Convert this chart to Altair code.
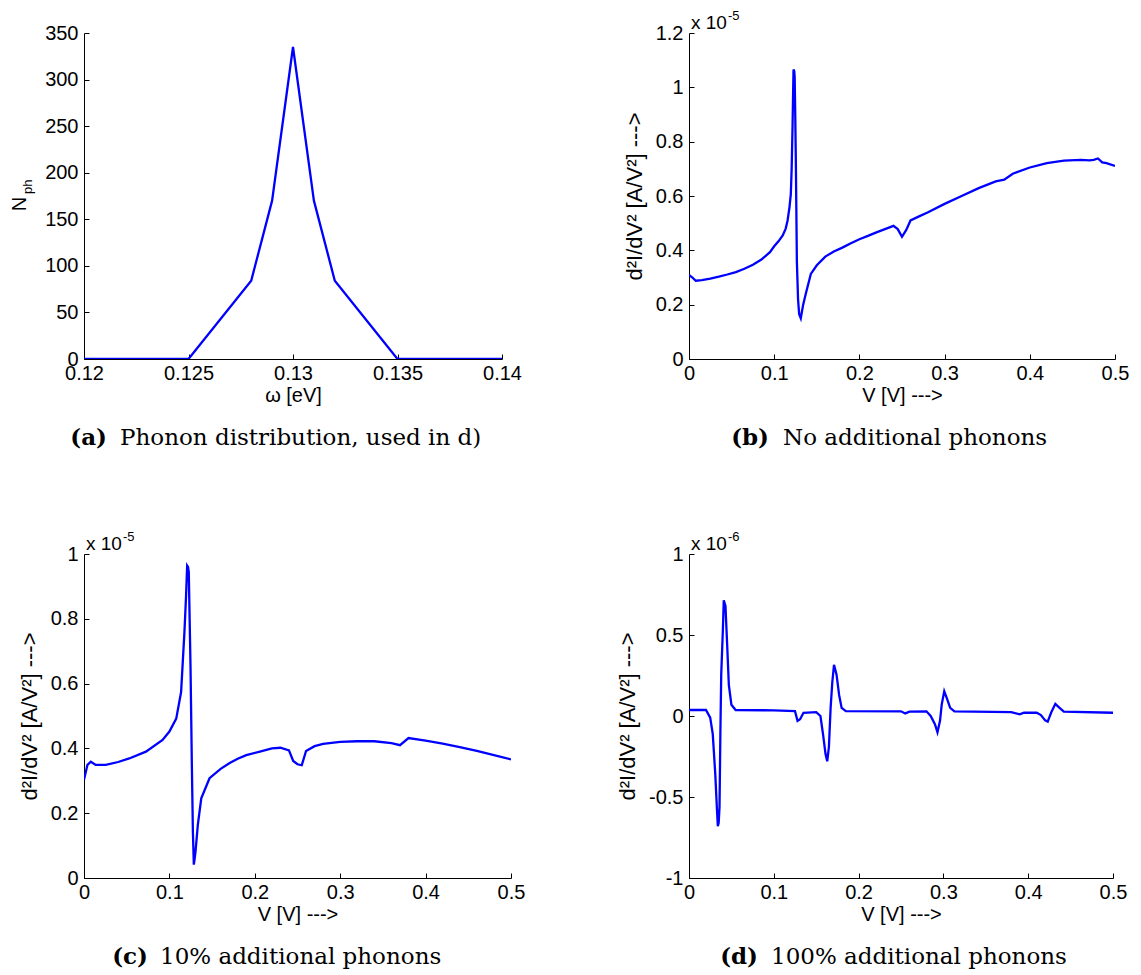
import altair as alt
import pandas as pd

# ---------------- data ----------------
# (a) phonon distribution
a_omega = [0.12, 0.125, 0.128, 0.129, 0.13, 0.131, 0.132, 0.135, 0.14]
a_nph = [0, 0, 84, 170, 335, 170, 84, 0, 0]

# (b) no additional phonons  (values in units of 1e-5)
b_v = [0.0, 0.004, 0.008, 0.015, 0.025, 0.035, 0.045, 0.055, 0.065, 0.075,
       0.085, 0.095, 0.1, 0.105, 0.11, 0.1135, 0.1157, 0.118, 0.1195, 0.1205,
       0.1215, 0.1222, 0.1227, 0.1235, 0.124, 0.1247, 0.1254, 0.126, 0.1266, 0.128,
       0.1293, 0.1312, 0.134, 0.137, 0.143, 0.15, 0.16, 0.17, 0.18, 0.19,
       0.2, 0.21, 0.22, 0.23, 0.24, 0.245, 0.25, 0.255, 0.26, 0.27,
       0.28, 0.3, 0.32, 0.34, 0.36, 0.37, 0.38, 0.4, 0.42, 0.44,
       0.46, 0.47, 0.475, 0.48, 0.485, 0.49, 0.5]
b_d2i = [0.31, 0.30, 0.288, 0.29, 0.296, 0.303, 0.311, 0.32, 0.332, 0.347,
         0.366, 0.393, 0.415, 0.433, 0.455, 0.48, 0.51, 0.56, 0.607, 0.70,
         0.851, 0.98, 1.066, 1.06, 1.04, 0.9, 0.729, 0.55, 0.36, 0.22,
         0.165, 0.15, 0.2, 0.239, 0.313, 0.345, 0.377, 0.396, 0.41, 0.426,
         0.441, 0.453, 0.466, 0.478, 0.49, 0.478, 0.45, 0.475, 0.51, 0.525,
         0.539, 0.571, 0.6, 0.629, 0.654, 0.66, 0.682, 0.705, 0.721, 0.73,
         0.733, 0.731, 0.733, 0.738, 0.724, 0.721, 0.711]

# (c) 10% additional phonons (units of 1e-5)
c_v = [0.0, 0.004, 0.008, 0.0137, 0.0255, 0.04, 0.053, 0.0725, 0.092, 0.1,
       0.108, 0.1137, 0.1176, 0.1195, 0.1208, 0.1218, 0.1227, 0.1237, 0.1247, 0.1263,
       0.1275, 0.1286, 0.1296, 0.1306, 0.1333, 0.1373, 0.147, 0.16, 0.1706, 0.18,
       0.19, 0.206, 0.22, 0.23, 0.24, 0.245, 0.25, 0.255, 0.26, 0.27,
       0.28, 0.3, 0.32, 0.34, 0.36, 0.37, 0.38, 0.4, 0.42, 0.44,
       0.46, 0.48, 0.5]
c_d2i = [0.303, 0.349, 0.359, 0.349, 0.349, 0.358, 0.369, 0.39, 0.426, 0.452,
         0.492, 0.574, 0.759, 0.87, 0.964, 0.96, 0.944, 0.8, 0.657, 0.349,
         0.144, 0.041, 0.06, 0.082, 0.164, 0.246, 0.308, 0.337, 0.355, 0.368,
         0.379, 0.39, 0.4, 0.402, 0.394, 0.361, 0.351, 0.348, 0.392, 0.407,
         0.414, 0.42, 0.422, 0.422, 0.416, 0.41, 0.432, 0.424, 0.415, 0.404,
         0.392, 0.379, 0.366]

# (d) 100% additional phonons (units of 1e-6)
d_v = [0, 0.02, 0.025, 0.028, 0.031, 0.033, 0.034, 0.035, 0.036, 0.037,
       0.038, 0.04, 0.041, 0.043, 0.045, 0.047, 0.05, 0.055, 0.1, 0.125,
       0.128, 0.131, 0.135, 0.15, 0.155, 0.158, 0.161, 0.163, 0.165, 0.167,
       0.169, 0.171, 0.174, 0.177, 0.18, 0.185, 0.25, 0.255, 0.26, 0.28,
       0.285, 0.29, 0.293, 0.296, 0.298, 0.301, 0.304, 0.308, 0.313, 0.38,
       0.39, 0.395, 0.41, 0.415, 0.42, 0.423, 0.427, 0.432, 0.437, 0.442,
       0.5]
d_d2i = [0.037, 0.037, -0.01, -0.11, -0.36, -0.58, -0.68, -0.66, -0.56, -0.11,
         0.255, 0.54, 0.714, 0.68, 0.44, 0.19, 0.07, 0.037, 0.035, 0.03,
         -0.03, -0.02, 0.02, 0.024, 0.0, -0.11, -0.235, -0.28, -0.19, 0.05,
         0.21, 0.316, 0.255, 0.13, 0.05, 0.03, 0.029, 0.016, 0.027, 0.029,
         0.0, -0.05, -0.10, -0.03, 0.07, 0.153, 0.11, 0.05, 0.029, 0.024,
         0.01, 0.02, 0.02, 0.006, -0.027, -0.035, 0.02, 0.075, 0.05, 0.027,
         0.02]

a_xticks = [0.12, 0.125, 0.13, 0.135, 0.14]
a_yticks = [0, 50, 100, 150, 200, 250, 300, 350]
v_ticks = [0, 0.1, 0.2, 0.3, 0.4, 0.5]
b_yticks = [0, 0.2, 0.4, 0.6, 0.8, 1, 1.2]
c_yticks = [0, 0.2, 0.4, 0.6, 0.8, 1]
d_yticks = [-1, -0.5, 0, 0.5, 1]

SANS = "Liberation Sans"
SERIF = "DejaVu Serif"
BLUE = "#0000ff"
YTITLE = "d\u00b2I/dV\u00b2 [A/V\u00b2] --->"
CAP = 23


def txt(s, x, y, size, font=SANS, weight="normal", align="left", baseline="alphabetic", angle=0):
    return alt.Chart(pd.DataFrame({"t": [s]})).mark_text(
        font=font, fontSize=size, fontWeight=weight, align=align, baseline=baseline,
        angle=angle, color="black"
    ).encode(text="t:N", x=alt.value(x), y=alt.value(y))


def panel(xs, ys, W, H, xdom, xticks, ydom, yticks, xtitle, ytitle, tag, caption,
          tag_end, cap_start, exp=None, ytitle_pad=8, extra=None):
    df = pd.DataFrame({"x": xs, "y": ys})
    xsc = alt.Scale(domain=xdom, nice=False, zero=False)
    ysc = alt.Scale(domain=ydom, nice=False, zero=False)
    common = dict(grid=False, labelFont=SANS, labelFontSize=20, labelColor="black",
                  labelFlush=False, labelOverlap=False, ticks=False,
                  domainColor="black", domainWidth=1,
                  titleFont=SANS, titleFontWeight="normal",
                  titleColor="black", labelExpr="'' + datum.value")
    main = alt.Chart(df).mark_line(color=BLUE, strokeWidth=2.3, clip=True).encode(
        x=alt.X("x:Q", scale=xsc,
                axis=alt.Axis(values=xticks, title=xtitle, labelPadding=4,
                              titlePadding=2, titleFontSize=20, **common)),
        y=alt.Y("y:Q", scale=ysc,
                axis=alt.Axis(values=yticks, title=ytitle, labelPadding=6,
                              titlePadding=ytitle_pad, titleFontSize=22, **common)),
    )
    tickl = alt.Chart(df).mark_line(strokeOpacity=0).encode(
        x=alt.X("x:Q", scale=xsc,
                axis=alt.Axis(orient="top", offset=-H, values=xticks, labels=False,
                              domain=False, tickSize=5, tickColor="black",
                              tickWidth=1, grid=False, title="")),
        y=alt.Y("y:Q", scale=ysc,
                axis=alt.Axis(orient="right", offset=-W, values=yticks, labels=False,
                              domain=False, tickSize=5, tickColor="black",
                              tickWidth=1, grid=False, title="")),
    )
    layers = [main, tickl,
              txt(tag, tag_end, H + 79, CAP, font=SERIF, weight="bold",
                  align="right", baseline="middle"),
              txt(caption, cap_start, H + 79, CAP, font=SERIF, align="left",
                  baseline="middle")]
    if exp is not None:
        layers += [txt("x 10", 2, -4, 19), txt(exp, 39, -13, 13)]
    if extra:
        layers += extra
    return alt.layer(*layers).resolve_axis(x="independent", y="independent").properties(
        width=W, height=H)


pa = panel(a_omega, a_nph, 418, 326, [0.12, 0.14], a_xticks, [0, 350], a_yticks,
           "\u03c9 [eV]", "", "(a)", "Phonon distribution, used in d)", 23, 36,
           extra=[txt("N", -64, 171, 20, angle=270, align="center", baseline="middle"),
                  txt("ph", -56, 161, 13, angle=270, align="left", baseline="middle")])
pb = panel(b_v, b_d2i, 426, 326, [0, 0.5], v_ticks, [0, 1.2], b_yticks,
           "V [V] --->", YTITLE, "(b)", "No additional phonons", 80, 94, exp="-5",
           ytitle_pad=9)
pc = panel(c_v, c_d2i, 427, 324, [0, 0.5], v_ticks, [0, 1], c_yticks,
           "V [V] --->", YTITLE, "(c)", "10% additional phonons", 64, 76, exp="-5",
           ytitle_pad=9)
pd_ = panel(d_v, d_d2i, 424, 324, [0, 0.5], v_ticks, [-1, 1], d_yticks,
            "V [V] --->", YTITLE, "(d)", "100% additional phonons", 69, 82, exp="-6",
            ytitle_pad=9)

chart = alt.concat(pa, pb, pc, pd_, columns=2, bounds="flush",
                   spacing={"row": 195, "column": 178}).properties(
    padding={"left": 2, "top": 2, "right": 0, "bottom": 0},
    background="white",
).configure_view(strokeWidth=0)

chart.save("out.html", embed_options={"renderer": "svg", "actions": False})
